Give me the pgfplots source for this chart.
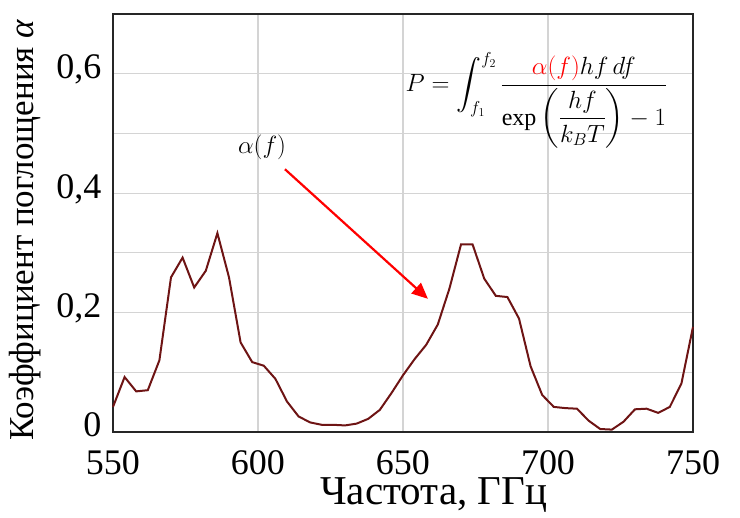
\documentclass[border=0pt]{standalone}
\usepackage{amsmath}
\usepackage{fontspec}
\setmainfont{Liberation Serif}
\usepackage{pgfplots}
\pgfplotsset{compat=1.18}
\usetikzlibrary{arrows.meta}
\definecolor{curve}{HTML}{6E1414}
\definecolor{gridc}{HTML}{D4D4D4}
\begin{document}
\begin{tikzpicture}[x=1pt,y=1pt]
\path[use as bounding box] (-113,-86) rectangle (627,432);
\begin{axis}[at={(0,0)}, anchor=south west, scale only axis, width=580pt, height=418pt,
  xmin=550, xmax=750, ymin=0, ymax=0.7,
  xtick={550,600,650,700,750}, xticklabels={550,600,650,700,750},
  ytick={0,0.2,0.4,0.6}, yticklabels={0,{0,2},{0,4},{0,6}},
  minor ytick={0.1,0.3,0.5},
  grid=both,
  major grid style={gridc, line width=1.2pt},
  minor grid style={gridc, line width=1.2pt},
  major tick length=0pt, minor tick length=0pt,
  axis line style={black!85, line width=1.6pt},
  tick label style={font=\fontsize{36}{40}\selectfont, inner sep=0.5pt},
  xticklabel style={anchor=base, yshift=-43pt},
  yticklabel style={anchor=base east, xshift=-11pt, yshift=-5pt},
  xlabel={Частота, ГГц},
  ylabel={Коэффициент поглощения \textit{α}},
  xlabel style={font=\fontsize{41}{46}\selectfont, inner sep=0.5pt, at={(axis description cs:0.553,-0.15)}, anchor=center},
  ylabel style={font=\fontsize{35}{40}\selectfont, inner sep=0.5pt, at={(axis description cs:-0.152,0.483)}, anchor=center},
  clip=false,
]
\addplot[curve, line width=2pt] coordinates {
(550,0.042) (554,0.092) (558,0.068) (562,0.070) (566,0.120) (570,0.259)
(574,0.292) (578,0.242) (582,0.270) (586,0.333) (590,0.259) (594,0.150)
(598,0.117) (602,0.111) (606,0.089) (610,0.051) (614,0.026) (618,0.016)
(622,0.012) (626,0.012) (630,0.011) (634,0.014) (638,0.022) (642,0.037)
(646,0.065) (650,0.095) (654,0.122) (658,0.146) (662,0.180) (666,0.240)
(670,0.314) (674,0.314) (678,0.257) (682,0.228) (686,0.226) (690,0.190)
(694,0.110) (698,0.062) (702,0.042) (706,0.040) (710,0.039) (714,0.019)
(718,0.005) (722,0.004) (726,0.017) (730,0.038) (734,0.039) (738,0.032)
(742,0.042) (746,0.081) (750,0.176)
};
\draw[red, line width=2.2pt, -{Triangle[length=16pt,width=14pt]}] (axis cs:609.3,0.44) -- (axis cs:658.6,0.223);
\node[font=\fontsize{37}{40}\selectfont] at (axis cs:601.4,0.477) {$\alpha(f)$};
\node[font=\fontsize{24}{28}\selectfont] at (axis cs:696,0.555) {$\displaystyle P=\int_{f_1}^{f_2}\frac{\color{red}\alpha(f)\color{black}hf\,df}{\exp\left(\dfrac{hf}{k_BT}\right)-1}$};
\end{axis}
\end{tikzpicture}
\end{document}
